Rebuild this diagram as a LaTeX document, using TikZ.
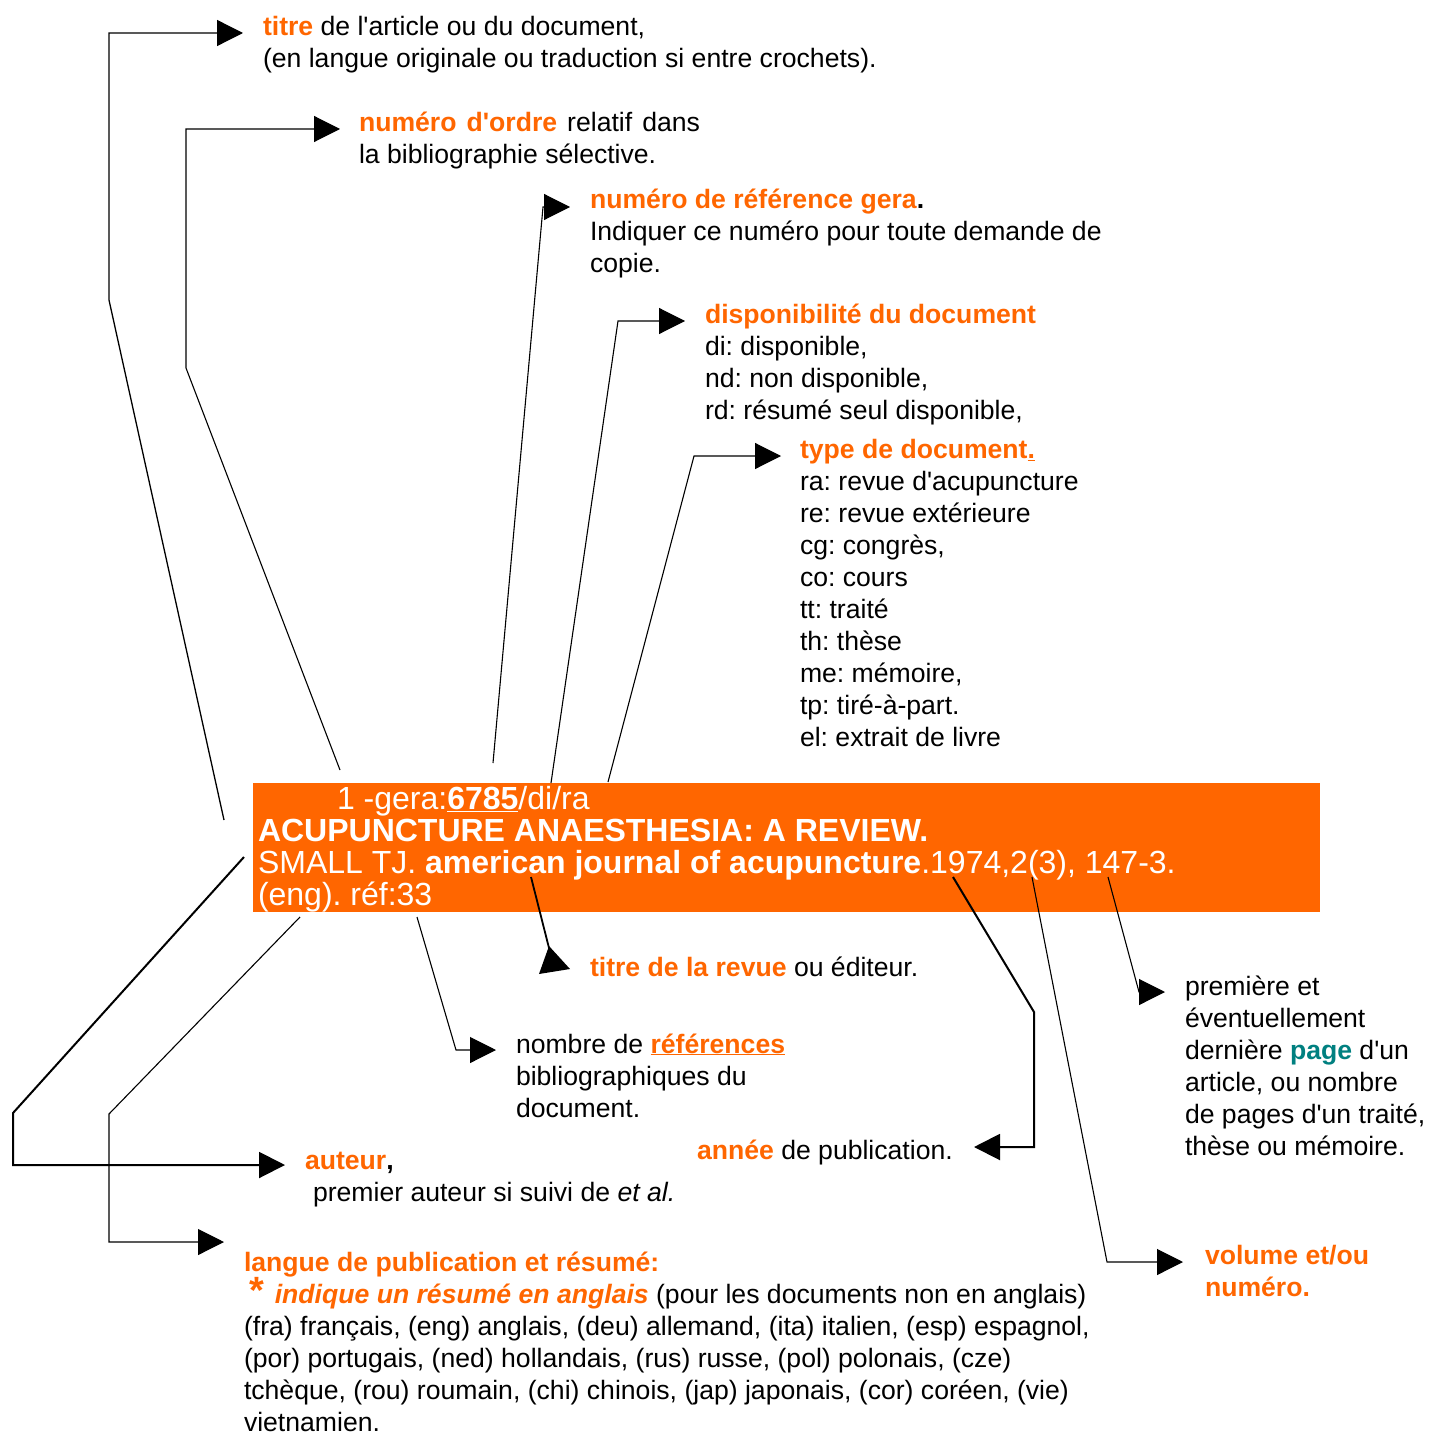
\documentclass[tikz,border=0pt]{standalone}
\usepackage{fontspec}
\setmainfont{Liberation Sans}
\usetikzlibrary{arrows.meta}
\definecolor{org}{HTML}{FF6600}
\definecolor{tealc}{HTML}{008080}
\newcommand\mlines[1]{\begin{tabular}[t]{@{}l@{}}#1\end{tabular}}
\newcommand\ob[1]{\textcolor{org}{\textbf{#1}}}
\newcommand\ap{\XeTeXglyph\the\XeTeXglyphindex "quotesingle"\relax}
\frenchspacing
\begin{document}
\frenchspacing
\begin{tikzpicture}[x=1pt,y=-1pt,
  lbl/.style={anchor=base west, inner sep=0pt, outer sep=0pt, font=\fontsize{26.6}{32}\selectfont\frenchspacing},
  conn/.style={draw=black, line width=1.1pt, -{Triangle[length=26pt,width=26pt]}},
  connthick/.style={conn, line width=2pt},
  plainline/.style={draw=black, line width=1.8pt},
  boxtxt/.style={anchor=base west, inner sep=0pt, outer sep=0pt, text=white, font=\fontsize{32}{32}\selectfont\frenchspacing},
]
\useasboundingbox (0,0) rectangle (1430,1434);
\fill[white] (0,0) rectangle (1430,1434);

% orange record box
\node[fill=org, anchor=north west, minimum width=1067pt, minimum height=129pt, inner sep=0pt, outer sep=0pt] (box) at (253,783) {};
\node[boxtxt] (b1) at (337,809) {1 -gera:\underline{\textbf{6785}}/di/ra};
\node[boxtxt] (b2) at (258,841) {\textbf{ACUPUNCTURE ANAESTHESIA: A REVIEW.}};
\node[boxtxt] (b3) at (258,873) {SMALL TJ. \textbf{american journal of acupuncture}.1974,2(3), 147-3.};
\node[boxtxt] (b4) at (258,905) {(eng). réf:33};

% labels
\node[lbl] (titre) at (263,35.5) {\mlines{\ob{titre} de l\ap article ou du document,\\(en langue originale ou traduction si entre crochets).}};
\node[lbl] (ordre) at (359,131.5) {\mlines{\hbox to 341pt{\ob{numéro}\hfill\ob{d\ap ordre}\hfill relatif\hfill dans}\\la bibliographie sélective.}};
\node[lbl] (gera) at (590,208.5) {\mlines{\ob{numéro de référence gera}\textbf{.}\\Indiquer ce numéro pour toute demande de\\copie.}};
\node[lbl] (dispo) at (705,323.5) {\mlines{\ob{disponibilité du document}\\di: disponible,\\nd: non disponible,\\rd: résumé seul disponible,}};
\node[lbl] (type) at (800,458.5) {\mlines{\ob{type de document\underline{.}}\\ra: revue d\ap acupuncture\\re: revue extérieure\\cg: congrès,\\co: cours\\tt: traité\\th: thèse\\me: mémoire,\\tp: tiré-à-part.\\el: extrait de livre}};
\node[lbl] (revue) at (590,976) {\ob{titre de la revue} ou éditeur.};
\node[lbl] (refs) at (516,1053) {\mlines{nombre de \textcolor{org}{\textbf{\underline{références}}}\\bibliographiques du\\document.}};
\node[lbl] (annee) at (697,1159) {\ob{année} de publication.};
\node[lbl] (page) at (1185,995) {\mlines{première et\\éventuellement\\dernière \textcolor{tealc}{\textbf{page}} d\ap un\\article, ou nombre\\de pages d\ap un traité,\\thèse ou mémoire.}};
\node[lbl] (vol) at (1205,1264) {\mlines{\ob{volume et/ou}\\\ob{numéro.}}};
\node[lbl] (auteur) at (305,1169) {\mlines{\ob{auteur}\textbf{,}\\\hspace{8pt}premier auteur si suivi de \textit{et al.}}};
\node[lbl] (langue) at (244,1271.5) {\mlines{\ob{langue de publication et résumé:}\\\hspace{5pt}\smash{\textcolor{org}{\textbf{\fontsize{38}{32}\selectfont *}}}\hspace{11pt}\textcolor{org}{\textbf{\textit{indique un résumé en anglais}}} (pour les documents non en anglais)\\(fra) français, (eng) anglais, (deu) allemand, (ita) italien, (esp) espagnol,\\(por) portugais, (ned) hollandais, (rus) russe, (pol) polonais, (cze)\\tchèque, (rou) roumain, (chi) chinois, (jap) japonais, (cor) coréen, (vie)\\vietnamien.}};

% connector points
\coordinate (a0) at (224,820); \coordinate (a1) at (109,300); \coordinate (a2) at (109,33); \coordinate (a3) at (243,33);
\coordinate (c0) at (340,770); \coordinate (c1) at (186,368); \coordinate (c2) at (186,129); \coordinate (c3) at (340,129);
\coordinate (g0) at (493,763); \coordinate (g1) at (543,207); \coordinate (g2) at (570,207);
\coordinate (d0) at (551,783); \coordinate (d1) at (618,321); \coordinate (d2) at (685,321);
\coordinate (t0) at (608,782); \coordinate (t1) at (694,456); \coordinate (t2) at (781,456);
\coordinate (r0) at (531,877); \coordinate (r1) at (549,948);
\coordinate (rA) at (549,946); \coordinate (rB) at (539,974); \coordinate (rC) at (570,969);
\coordinate (n0) at (417,917); \coordinate (n1) at (456,1050); \coordinate (n2) at (496,1050);
\coordinate (y0) at (953,877); \coordinate (y1) at (1034,1012); \coordinate (y2) at (1034,1147); \coordinate (y3) at (974,1147);
\coordinate (v0) at (1032,877); \coordinate (v1) at (1107,1262); \coordinate (v2) at (1183,1262);
\coordinate (p0) at (1108,877); \coordinate (p1) at (1139,992); \coordinate (p2) at (1165,992);
\coordinate (u0) at (244,857); \coordinate (u1) at (13,1113); \coordinate (u2) at (13,1165); \coordinate (u3) at (285,1165);
\coordinate (l0) at (300,917); \coordinate (l1) at (109,1114); \coordinate (l2) at (109,1242); \coordinate (l3) at (224,1242);

\draw[conn, line width=1.3pt] (a0) -- (a1) -- (a2) -- (a3);
\draw[conn] (c0) -- (c1) -- (c2) -- (c3);
\draw[conn] (g0) -- (g1) -- (g2);
\draw[conn] (d0) -- (d1) -- (d2);
\draw[conn] (t0) -- (t1) -- (t2);
\draw[plainline] (r0) -- (r1);
\fill[black] (rA) -- (rB) -- (rC) -- cycle;
\draw[conn] (n0) -- (n1) -- (n2);
\draw[connthick] (y0) -- (y1) -- (y2) -- (y3);
\draw[conn] (v0) -- (v1) -- (v2);
\draw[conn] (p0) -- (p1) -- (p2);
\draw[connthick] (u0) -- (u1) -- (u2) -- (u3);
\draw[conn] (l0) -- (l1) -- (l2) -- (l3);
\end{tikzpicture}
\end{document}
